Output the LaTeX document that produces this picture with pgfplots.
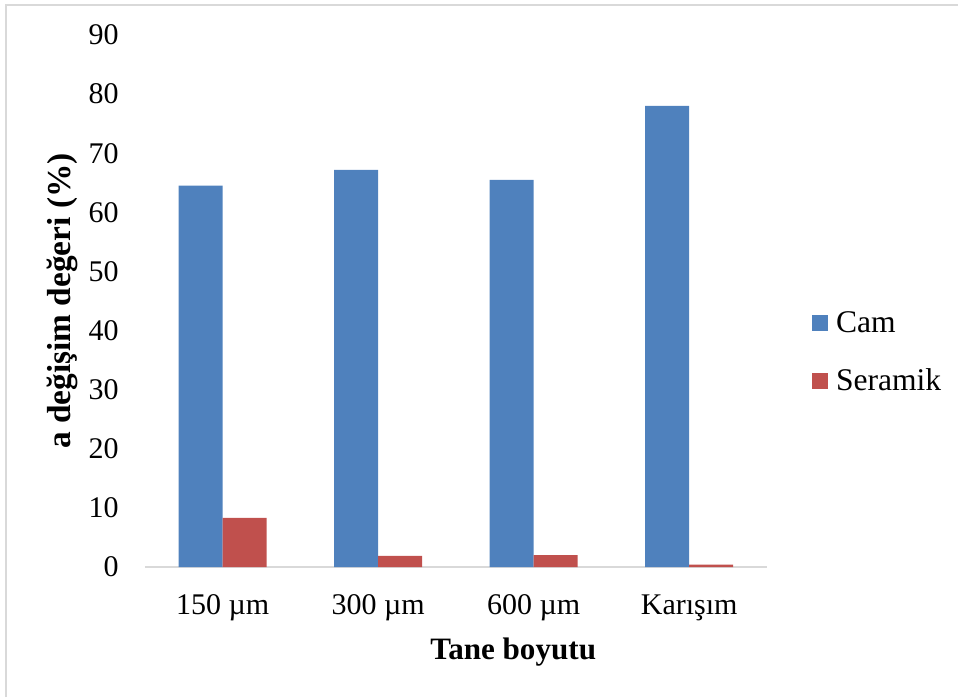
\documentclass[border=0pt]{standalone}
\usepackage{pgfplots}
\pgfplotsset{compat=1.18}
\usepackage{fontspec}
\setmainfont{Liberation Serif}
\definecolor{cam}{HTML}{4F81BD}
\definecolor{ser}{HTML}{C0504D}
\definecolor{axgray}{HTML}{D9D9D9}
\begin{document}
\begin{tikzpicture}[x=0.45pt,y=0.45pt]
\path[use as bounding box] (0,0) rectangle (958,697);
\draw[axgray, line width=0.8pt] (6,0) -- (6,692) -- (958,692);
\begin{axis}[
  at={(145pt*0.45,130pt*0.45)}, anchor=south west,
  scale only axis, width=279.9pt, height=239.4pt,
  ybar=0pt, bar width=19.8pt,
  xmin=-0.5, xmax=3.5, ymin=0, ymax=90,
  xtick={0,1,2,3}, xticklabels={150 µm,300 µm,600 µm,Karışım},
  ytick={0,10,...,90},
  axis y line*=left, axis x line*=bottom,
  y axis line style={draw=none},
  x axis line style={axgray, line width=1pt, -},
  major tick length=0pt,
  tick style={draw=none},
  font=\fontsize{13.5}{16}\selectfont,
  /pgf/number format/assume math mode=true,
  yticklabel style={anchor=east, xshift=-8.3pt},
  xticklabel style={yshift=-9pt},
  ylabel={\fontsize{15}{18}\selectfont\bfseries a değişim değeri (\%)},
  ylabel style={at={(axis description cs:-0.133,0.5)}, anchor=center},
  xlabel={\fontsize{14}{17}\selectfont\bfseries Tane boyutu},
  xlabel style={at={(axis description cs:0.592,-0.16)}, anchor=center},
  legend style={at={(axis description cs:1.071,0.403)}, anchor=west, draw=none, fill=none,
    inner sep=0pt, row sep=11pt, font=\fontsize{14.2}{17}\selectfont, legend cell align=left},
  legend image code/.code={\fill[#1] (0pt,-3.6pt) rectangle (7.2pt,3.6pt); \path (9pt,0pt);},
  clip=false,
]
\addplot[fill=cam, draw=none] coordinates {(0,64.5) (1,67.2) (2,65.5) (3,78.0)};
\addplot[fill=ser, draw=none] coordinates {(0,8.3) (1,1.9) (2,2.0) (3,0.4)};
\legend{Cam,Seramik}
\end{axis}
\end{tikzpicture}
\end{document}
